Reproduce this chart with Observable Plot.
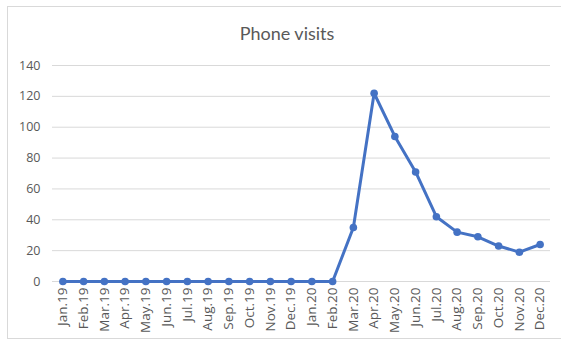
<!DOCTYPE html>
<html>
<head>
<meta charset="utf-8">
<script src="https://cdn.jsdelivr.net/npm/d3@7"></script>
<script src="https://cdn.jsdelivr.net/npm/@observablehq/plot@0.6"></script>
<style>
  html, body { margin: 0; padding: 0; background: #fff; }
  #chart {
    position: relative;
    width: 561px;
    height: 341px;
    overflow: hidden;
    font-family: Lato, "Open Sans", sans-serif;
  }
  #frame {
    position: absolute;
    left: 7px; top: 6px;
    width: 560px; height: 333px;
    border: 1px solid #d9d9d9;
    box-sizing: border-box;
  }
  #title {
    position: absolute;
    left: 0; width: 574px; top: 22px;
    text-align: center;
    font-size: 18px;
    color: #595959;
  }
  #plot { position: absolute; left: 0; top: 0; }
</style>
</head>
<body>
<div id="chart">
  <div id="frame"></div>
  <div id="title">Phone visits</div>
  <div id="plot"></div>
</div>
<script>
// Monthly phone visits, Jan 2019 – Dec 2020
const months = [
  "Jan.19","Feb.19","Mar.19","Apr.19","May.19","Jun.19",
  "Jul.19","Aug.19","Sep.19","Oct.19","Nov.19","Dec.19",
  "Jan.20","Feb.20","Mar.20","Apr.20","May.20","Jun.20",
  "Jul.20","Aug.20","Sep.20","Oct.20","Nov.20","Dec.20"
];
const visits = [
  0,0,0,0,0,0,0,0,0,0,0,0,
  0,0,35,122,94,71,42,32,29,23,19,24
];
const yTicks = [0,20,40,60,80,100,120,140];

const data = months.map((m, i) => ({month: m, visits: visits[i]}));
const blue = "#4472c4";
const grey = "#595959";
const tickFont = "'Open Sans', sans-serif";

const plot = Plot.plot({
  width: 561,
  height: 341,
  marginLeft: 52,
  marginRight: 11,
  marginTop: 65,
  marginBottom: 60,
  style: {background: "transparent", fontFamily: tickFont, color: grey},
  x: {type: "band", domain: months, padding: 0, round: false, label: null},
  y: {domain: [0, 140], ticks: yTicks, label: null},
  marks: [
    Plot.gridY(yTicks, {stroke: "#d9d9d9", strokeOpacity: 1, strokeWidth: 1}),
    Plot.axisY(yTicks, {tickSize: 0, tickPadding: 12, fontSize: 12.5, fontFamily: tickFont, fill: grey, label: null}),
    Plot.axisX({tickSize: 0, tickRotate: -90, tickPadding: 6, fontSize: 13.5, fontFamily: tickFont, fill: grey, label: null}),
    Plot.line(data, {x: "month", y: "visits", stroke: blue, strokeWidth: 3}),
    Plot.dot(data, {x: "month", y: "visits", fill: blue, r: 3.8})
  ]
});
document.getElementById("plot").appendChild(plot);
</script>
</body>
</html>
